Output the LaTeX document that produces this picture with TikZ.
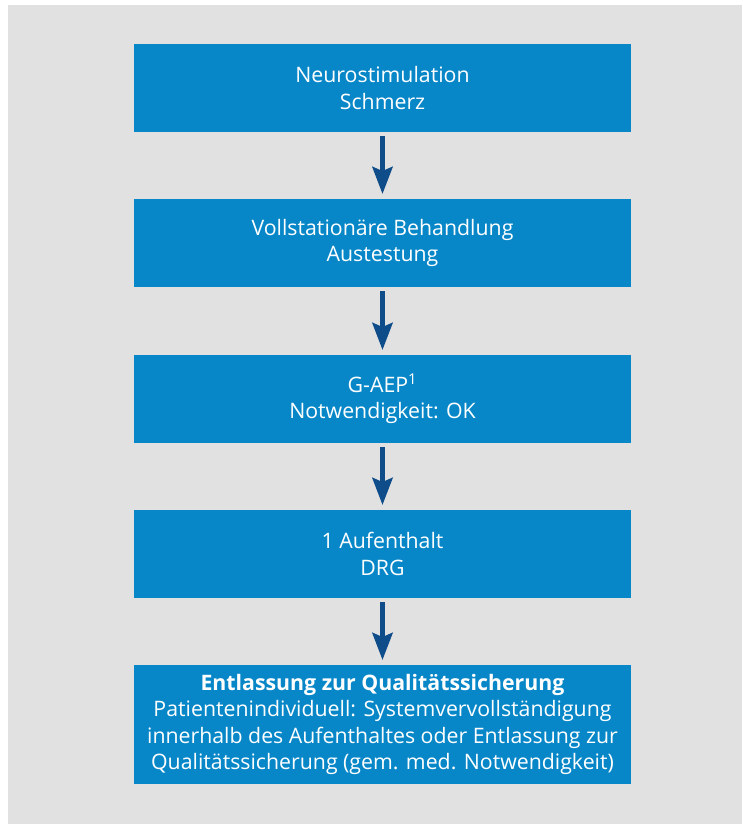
\documentclass[tikz,border=0pt]{standalone}
\usepackage{fontspec}
\setmainfont{Open Sans}
\usetikzlibrary{positioning}
\usetikzlibrary{arrows.meta}
\definecolor{bggray}{HTML}{E1E1E1}
\definecolor{boxblue}{HTML}{0787C8}
\definecolor{arrowblue}{HTML}{0E4C8A}

\begin{document}
\begin{tikzpicture}[x=1pt, y=1pt,
    stepbox/.style={fill=boxblue, text=white, align=center, outer sep=0pt,
        minimum width=497pt, minimum height=88pt, inner sep=0pt,
        font=\fontsize{21.3}{26.5}\selectfont},
    flow/.style={arrowblue, line width=5pt,
        -{Stealth[length=27pt, width=20pt, inset=4pt]}}]
            \useasboundingbox (0,0) rectangle (742,-824);
            \fill[bggray] (8,-5) rectangle (742,-824);

            \node[stepbox] (neuro) at (382.5,-88) {Neurostimulation\\Schmerz};
            \node[stepbox, below = 67pt of neuro] (stat) {Vollstationäre Behandlung\\Austestung};
            \node[stepbox, below = 68pt of stat] (gaep) {G-AEP\textsuperscript{1}\\Notwendigkeit: OK};
            \node[stepbox, below = 67pt of gaep] (drg) {1 Aufenthalt\\DRG};
            \node[stepbox, below = 67pt of drg, minimum height=119pt] (entl)
                {\textbf{Entlassung zur Qualitätssicherung}\\Patientenindividuell: Systemvervollständigung\\innerhalb des Aufenthaltes oder Entlassung zur\\Qualitätssicherung (gem. med. Notwendigkeit)};

            \draw[flow] ([yshift=-4pt]neuro.south) -- ([yshift=5pt]stat.north);
            \draw[flow] ([yshift=-4pt]stat.south) -- ([yshift=5pt]gaep.north);
            \draw[flow] ([yshift=-4pt]gaep.south) -- ([yshift=5pt]drg.north);
            \draw[flow] ([yshift=-4pt]drg.south) -- ([yshift=5pt]entl.north);
        \end{tikzpicture}
\end{document}
